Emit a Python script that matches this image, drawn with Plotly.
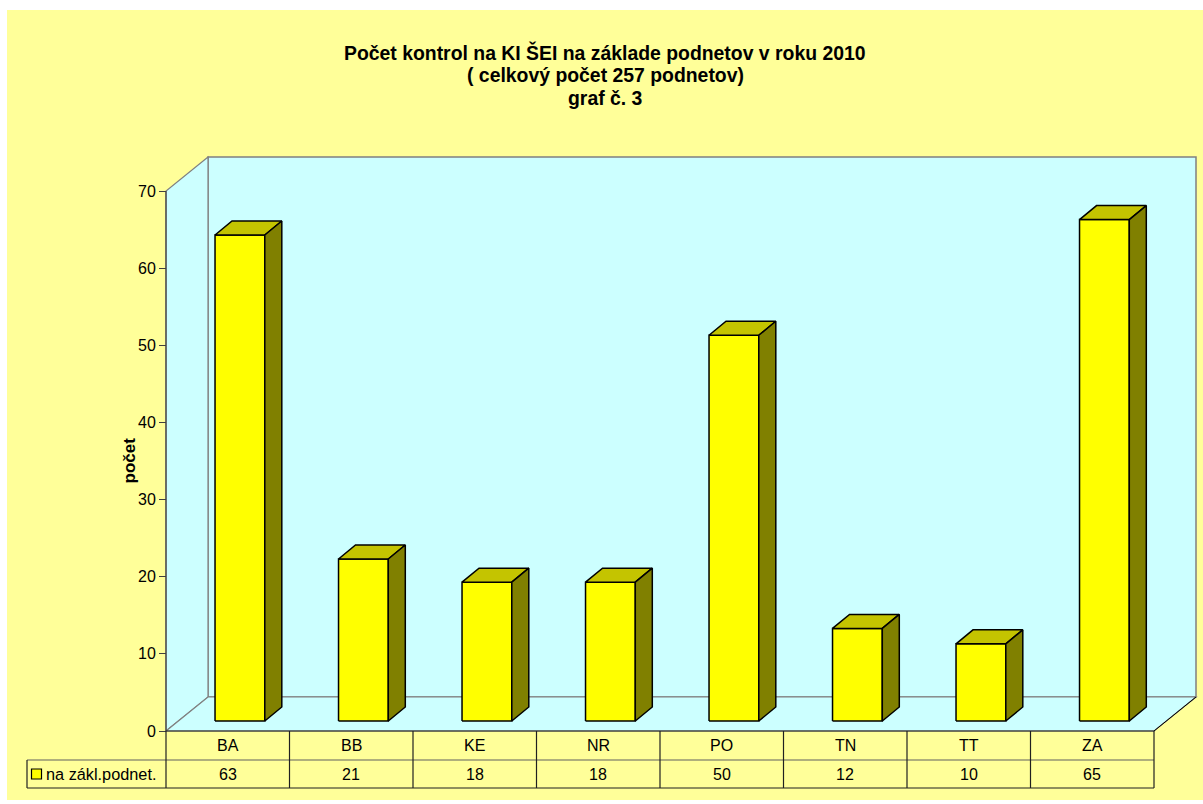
import plotly.graph_objects as go

# ---- data ----
categories = ["BA", "BB", "KE", "NR", "PO", "TN", "TT", "ZA"]
values = [63, 21, 18, 18, 50, 12, 10, 65]
series_name = "na zákl.podnet."
y_ticks = [0, 10, 20, 30, 40, 50, 60, 70]
title_lines = ["Počet kontrol na KI ŠEI na základe podnetov v roku 2010",
               "( celkový počet 257 podnetov)",
               "graf č. 3"]
y_title = "počet"

# ---- geometry (in axis units) ----
W, H = 1203, 804
ML, MR, MT, MB = 20, 3, 150, 9
PX_X = 123.5          # px per category
PX_Y = 540 / 70       # px per value unit
X0_PX, Y0_PX = 166, 731
xr = [(ML - X0_PX) / PX_X, (W - MR - X0_PX) / PX_X]
yr = [(Y0_PX - (H - MB)) / PX_Y, (Y0_PX - MT) / PX_Y]
n = len(categories)
ymax = y_ticks[-1]
DX, DY = 42 / PX_X, 34 / PX_Y            # wall depth
BL, BR = 0.397, 0.80                    # bar front face inside category
B0 = 10 / PX_Y                          # bar base lift
BDX, BDY = 17 / PX_X, 14 / PX_Y         # bar depth
ROW1, ROW2 = -29 / PX_Y, -57 / PX_Y
LEG_X = (27 - X0_PX) / PX_X

FONT = "Liberation Sans, Arial, sans-serif"
WALL = "#CCFFFF"
GRAY = "#808080"

fig = go.Figure()

def px2paper_x(p):
    return (p - ML) / (W - ML - MR)

def px2paper_y(p):
    return (H - MB - p) / (H - MT - MB)

shapes = []
# yellow chart-area background
shapes.append(dict(type="rect", xref="paper", yref="paper", layer="below",
                   x0=px2paper_x(7), x1=px2paper_x(W + 5), y0=px2paper_y(800), y1=px2paper_y(10),
                   fillcolor="#FFFF99", line=dict(width=0)))

def path(pts):
    return "M " + " L ".join(f"{x},{y}" for x, y in pts) + " Z"

# back wall
shapes.append(dict(type="path", xref="x", yref="y", layer="below",
                   path=path([(DX, DY), (n + DX, DY), (n + DX, ymax + DY), (DX, ymax + DY)]),
                   fillcolor=WALL, line=dict(color=GRAY, width=1.5)))
# side wall
shapes.append(dict(type="path", xref="x", yref="y", layer="below",
                   path=path([(0, 0), (0, ymax), (DX, ymax + DY), (DX, DY)]),
                   fillcolor=WALL, line=dict(color=GRAY, width=1.2)))
# floor
shapes.append(dict(type="path", xref="x", yref="y", layer="below",
                   path=path([(0, 0), (n, 0), (n + DX, DY), (DX, DY)]),
                   fillcolor=WALL, line=dict(color=GRAY, width=1.2)))
# floor right edge (dark)
shapes.append(dict(type="line", xref="x", yref="y", x0=n, y0=0, x1=n + DX, y1=DY,
                   line=dict(color="#000000", width=1)))
# front y-axis line
shapes.append(dict(type="line", xref="x", yref="y", x0=0, y0=0, x1=0, y1=ymax,
                   line=dict(color="#404040", width=1.2)))

# table lines
TL = "#202020"
shapes.append(dict(type="line", xref="x", yref="y", x0=0, y0=0, x1=n, y1=0, line=dict(color=TL, width=1.2)))
shapes.append(dict(type="line", xref="x", yref="y", x0=LEG_X, y0=ROW1, x1=n, y1=ROW1, line=dict(color="#606060", width=1.2)))
shapes.append(dict(type="line", xref="x", yref="y", x0=LEG_X, y0=ROW2, x1=n, y1=ROW2, line=dict(color=TL, width=1.2)))
shapes.append(dict(type="line", xref="x", yref="y", x0=LEG_X, y0=ROW1, x1=LEG_X, y1=ROW2, line=dict(color=TL, width=1.2)))
for i in range(n + 1):
    shapes.append(dict(type="line", xref="x", yref="y", x0=i, y0=0, x1=i, y1=ROW2,
                       line=dict(color=TL, width=1.2)))

# bars
for i, v in enumerate(values):
    xl, xrr = i + BL, i + BR
    yb, yt = B0, B0 + v
    faces = [
        ([xl, xrr, xrr, xl, xl], [yb, yb, yt, yt, yb], "#FFFF00"),
        ([xl, xrr, xrr + BDX, xl + BDX, xl], [yt, yt, yt + BDY, yt + BDY, yt], "#C4C400"),
        ([xrr, xrr + BDX, xrr + BDX, xrr, xrr], [yb, yb + BDY, yt + BDY, yt, yb], "#808000"),
    ]
    for fx, fy, col in faces:
        fig.add_trace(go.Scatter(x=fx, y=fy, mode="lines", fill="toself", fillcolor=col,
                                 line=dict(color="#000000", width=1.5), hoverinfo="skip",
                                 showlegend=False))

# legend key in table
fig.add_trace(go.Scatter(x=[LEG_X + (36.5 - 27) / PX_X], y=[(ROW1 + ROW2) / 2], mode="markers",
                         marker=dict(symbol="square", size=10, color="#FFFF00",
                                     line=dict(color="#000000", width=1.2)),
                         hoverinfo="skip", showlegend=False))

TFS = 16
annotations = []
for i, (c, v) in enumerate(zip(categories, values)):
    annotations.append(dict(x=i + 0.5, y=ROW1 / 2, xref="x", yref="y", text=c, showarrow=False,
                            font=dict(family=FONT, size=TFS, color="#000000")))
    annotations.append(dict(x=i + 0.5, y=(ROW1 + ROW2) / 2, xref="x", yref="y", text=str(v),
                            showarrow=False, font=dict(family=FONT, size=TFS, color="#000000")))
annotations.append(dict(x=LEG_X + (44 - 27) / PX_X, y=(ROW1 + ROW2) / 2, xref="x", yref="y",
                        text=series_name, showarrow=False, xanchor="left",
                        font=dict(family=FONT, size=16.3, color="#000000")))
# title
for k, (t, ypx) in enumerate(zip(title_lines, [52, 75, 98])):
    annotations.append(dict(x=px2paper_x(605), y=px2paper_y(ypx), xref="paper", yref="paper",
                            text=f"<b>{t}</b>", showarrow=False, yanchor="middle",
                            font=dict(family=FONT, size=19.4, color="#000000")))
# y-axis title
annotations.append(dict(x=px2paper_x(117), y=px2paper_y(461), xref="paper", yref="paper",
                        text=f"<b>{y_title}</b>", showarrow=False, textangle=-90,
                        font=dict(family=FONT, size=17, color="#000000")))

fig.update_layout(
    width=W, height=H,
    margin=dict(l=ML, r=MR, t=MT, b=MB),
    paper_bgcolor="#FFFFFF",
    plot_bgcolor="rgba(0,0,0,0)",
    showlegend=False,
    shapes=shapes,
    annotations=annotations,
    xaxis=dict(range=xr, visible=False, fixedrange=True),
    yaxis=dict(range=yr, anchor="free", position=px2paper_x(X0_PX), side="left",
               tickvals=y_ticks, ticktext=[str(t) for t in y_ticks],
               ticks="outside", ticklen=7, tickcolor="#404040", tickwidth=1.2,
               showgrid=False, zeroline=False, showline=False,
               tickfont=dict(family=FONT, size=16, color="#000000"), fixedrange=True),
)

fig.write_html("out.html", config={"displayModeBar": False},
               post_script="document.body.style.margin='0';document.body.style.overflow='hidden';")
